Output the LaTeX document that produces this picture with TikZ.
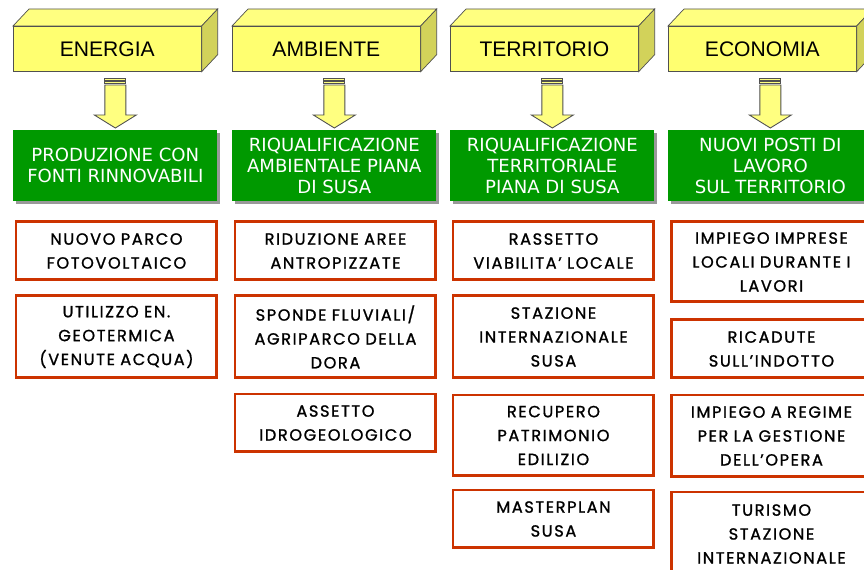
\documentclass[tikz,border=0pt]{standalone}
\usepackage{fontspec}
\setmainfont{Liberation Sans}
\newfontfamily\greenfont{DejaVu Sans}
\newfontfamily\handfont[LetterSpace=10,FakeBold=1.2]{Poppins}
\usetikzlibrary{calc,shadows}

\definecolor{cubefront}{HTML}{FFFF70}
\definecolor{cubetop}{HTML}{FFFF80}
\definecolor{cubeside}{HTML}{D2D25A}
\definecolor{cubeline}{HTML}{505050}
\definecolor{boxgreen}{HTML}{009900}
\definecolor{boxred}{HTML}{CC3300}

\tikzset{
  cube/.style={draw=cubeline, fill=cubefront, anchor=north west, inner sep=0pt,
    minimum width=3.76cm, minimum height=0.9cm, font=\fontsize{12}{14}\selectfont},
  greenbox/.style={fill=boxgreen, text=white, anchor=north west, align=center,
    minimum width=4.08cm, minimum height=1.42cm, inner sep=0pt,
    font=\greenfont\fontsize{10.3}{12}\selectfont,
    drop shadow={shadow xshift=0.06cm, shadow yshift=-0.06cm, fill=gray!80, opacity=1}},
  redbox/.style={draw=boxred, line width=1.7pt, fill=white, anchor=north west,
    text width=3.9cm, inner xsep=0.06cm, align=center,
    font=\handfont\fontsize{9.2}{13.6}\selectfont},
  yarrow/.style={draw=cubeline, fill=cubetop, line width=0.5pt}
}

% cuboid faces behind a front node
\newcommand\cubefaces[1]{
  \draw[draw=cubeline, fill=cubetop] (#1.north west) -- ++(16,-17)
    -- ($(#1.north east)+(16,-17)$) -- (#1.north east) -- cycle;
  \draw[draw=cubeline, fill=cubeside] (#1.north east) -- ++(16,-17)
    -- ($(#1.south east)+(16,-17)$) -- (#1.south east) -- cycle;
}
% block arrow down onto a green box
\newcommand\yellowarrow[1]{
  \draw[yarrow] ($(#1.north)+(-10.5,-52)$) rectangle ($(#1.north)+(10.5,-50)$);
  \draw[yarrow] ($(#1.north)+(-10.5,-49)$) rectangle ($(#1.north)+(10.5,-47)$);
  \draw[yarrow] ($(#1.north)+(-10.5,-45)$) -- ($(#1.north)+(-10.5,-15)$)
    -- ($(#1.north)+(-21,-15)$) -- ($(#1.north)+(0,-2)$)
    -- ($(#1.north)+(21,-15)$) -- ($(#1.north)+(10.5,-15)$)
    -- ($(#1.north)+(10.5,-45)$) -- cycle;
}

\begin{document}
\begin{tikzpicture}[x=0.02cm, y=-0.02cm]
  \clip (0,0) rectangle (864,570);

  % headings
  \node[cube] (energia) at (13,26) {ENERGIA};
  \node[cube] (ambiente) at (232,26) {AMBIENTE};
  \node[cube] (territorio) at (450,26) {TERRITORIO};
  \node[cube] (economia) at (668,26) {ECONOMIA};
  \foreach \c in {energia,ambiente,territorio,economia}{\cubefaces{\c}}

  % goals
  \node[greenbox] (produzione) at (13,130) {PRODUZIONE CON\\FONTI RINNOVABILI};
  \node[greenbox] (riqamb) at (232,130) {RIQUALIFICAZIONE\\AMBIENTALE PIANA\\DI SUSA};
  \node[greenbox] (riqterr) at (450,130) {RIQUALIFICAZIONE\\TERRITORIALE\\PIANA DI SUSA};
  \node[greenbox] (lavoro) at (668,130) {NUOVI POSTI DI\\LAVORO\\SUL TERRITORIO};
  \foreach \g in {produzione,riqamb,riqterr,lavoro}{\yellowarrow{\g}}

  % energia
  \node[redbox, minimum height=1.16cm] (parco) at (14.5,220.5) {NUOVO PARCO\\FOTOVOLTAICO};
  \node[redbox, minimum height=1.64cm] (geoterm) at (14.5,294.5) {UTILIZZO EN.\\GEOTERMICA\\(VENUTE ACQUA)};

  % ambiente
  \node[redbox, minimum height=1.16cm] (aree) at (233.5,220.5) {RIDUZIONE AREE\\ANTROPIZZATE};
  \node[redbox, minimum height=1.64cm] (sponde) at (233.5,294.5) {SPONDE FLUVIALI/\\AGRIPARCO DELLA\\DORA};
  \node[redbox, minimum height=1.16cm] (idrogeo) at (233.5,392.5) {ASSETTO\\IDROGEOLOGICO};

  % territorio
  \node[redbox, minimum height=1.16cm] (viabilita) at (451.5,220.5) {RASSETTO\\VIABILITA’ LOCALE};
  \node[redbox, minimum height=1.64cm] (stazione) at (451.5,294.5) {STAZIONE\\INTERNAZIONALE\\SUSA};
  \node[redbox, minimum height=1.62cm] (recupero) at (451.5,393.5) {RECUPERO\\PATRIMONIO\\EDILIZIO};
  \node[redbox, minimum height=1.16cm] (masterplan) at (451.5,488.5) {MASTERPLAN\\SUSA};

  % economia
  \node[redbox, minimum height=1.6cm] (imprese) at (669.5,220.5) {IMPIEGO IMPRESE\\LOCALI DURANTE I\\LAVORI};
  \node[redbox, minimum height=1.16cm] (indotto) at (669.5,318.5) {RICADUTE\\SULL’INDOTTO};
  \node[redbox, minimum height=1.64cm] (regime) at (669.5,393.5) {IMPIEGO A REGIME\\PER LA GESTIONE\\DELL’OPERA};
  \node[redbox, minimum height=1.68cm] (turismo) at (669.5,490.5) {TURISMO\\STAZIONE\\INTERNAZIONALE};
\end{tikzpicture}
\end{document}
